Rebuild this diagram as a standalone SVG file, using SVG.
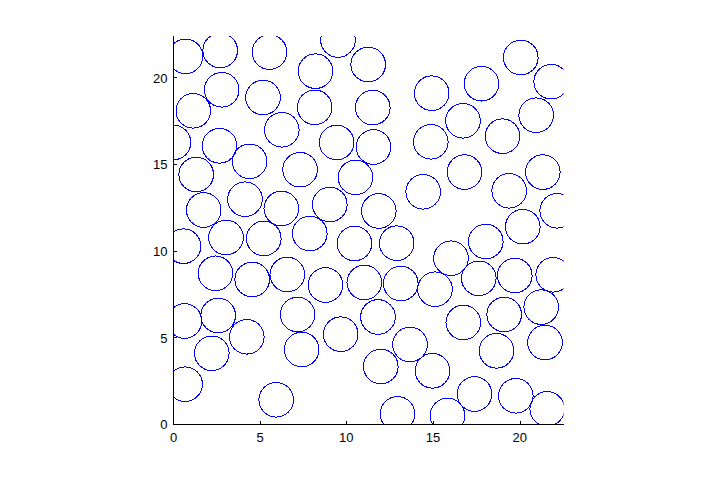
<svg xmlns="http://www.w3.org/2000/svg" width="711" height="478" viewBox="0 0 711 478">
<style>
.c{fill:none;stroke:#0000ff;stroke-width:1}
.ax{stroke:#000;stroke-width:1;fill:none}
.t{font-family:"Liberation Sans",Arial,sans-serif;font-size:13px;fill:#000}
.xl{text-anchor:middle}
.yl{text-anchor:end}
</style>
<defs>
<clipPath id="plotclip"><rect x="173.5" y="36" width="390" height="388.5"/></clipPath>
<circle id="p" r="17.3" class="c"/>
</defs>
<rect x="0" y="0" width="711" height="478" fill="#fff"/>
<g id="circles" clip-path="url(#plotclip)" shape-rendering="crispEdges">
<use href="#p" x="185.5" y="56.3"/>
<use href="#p" x="220.2" y="50.5"/>
<use href="#p" x="269.5" y="52.1"/>
<use href="#p" x="338" y="40"/>
<use href="#p" x="368.2" y="64.5"/>
<use href="#p" x="315.5" y="71.2"/>
<use href="#p" x="520.8" y="57.5"/>
<use href="#p" x="481.5" y="83.7"/>
<use href="#p" x="551.2" y="81.7"/>
<use href="#p" x="431.7" y="93.2"/>
<use href="#p" x="221.7" y="89.8"/>
<use href="#p" x="263" y="97.5"/>
<use href="#p" x="193.3" y="110.8"/>
<use href="#p" x="314.7" y="107.3"/>
<use href="#p" x="372.8" y="107.6"/>
<use href="#p" x="463" y="120.8"/>
<use href="#p" x="536.2" y="115.2"/>
<use href="#p" x="502.5" y="136.2"/>
<use href="#p" x="281.8" y="129.8"/>
<use href="#p" x="173.5" y="142.5"/>
<use href="#p" x="219.5" y="145.8"/>
<use href="#p" x="336.7" y="142.5"/>
<use href="#p" x="373.5" y="147"/>
<use href="#p" x="430.8" y="141.8"/>
<use href="#p" x="249.6" y="161.3"/>
<use href="#p" x="300.1" y="169.7"/>
<use href="#p" x="196.2" y="174.5"/>
<use href="#p" x="355.5" y="177.4"/>
<use href="#p" x="464.5" y="172.1"/>
<use href="#p" x="542.8" y="172.1"/>
<use href="#p" x="423.2" y="191.8"/>
<use href="#p" x="509.2" y="190.8"/>
<use href="#p" x="245" y="199.2"/>
<use href="#p" x="329.8" y="204.5"/>
<use href="#p" x="281.3" y="208.5"/>
<use href="#p" x="203.7" y="210"/>
<use href="#p" x="378.8" y="211"/>
<use href="#p" x="557.2" y="210.8"/>
<use href="#p" x="522.8" y="226.7"/>
<use href="#p" x="309.8" y="233.5"/>
<use href="#p" x="226" y="237.5"/>
<use href="#p" x="263.8" y="238.5"/>
<use href="#p" x="354.5" y="243.5"/>
<use href="#p" x="396.7" y="243.2"/>
<use href="#p" x="485.8" y="241.5"/>
<use href="#p" x="183.5" y="246.2"/>
<use href="#p" x="451" y="258.2"/>
<use href="#p" x="215.5" y="273.3"/>
<use href="#p" x="252.2" y="279.5"/>
<use href="#p" x="287.3" y="274.5"/>
<use href="#p" x="325.5" y="285"/>
<use href="#p" x="364.3" y="282.5"/>
<use href="#p" x="400.8" y="283.5"/>
<use href="#p" x="435" y="289.2"/>
<use href="#p" x="478.8" y="278.3"/>
<use href="#p" x="514.8" y="275.5"/>
<use href="#p" x="553.2" y="274.8"/>
<use href="#p" x="541.2" y="307.1"/>
<use href="#p" x="184.5" y="321"/>
<use href="#p" x="218.2" y="315.5"/>
<use href="#p" x="297.6" y="314.5"/>
<use href="#p" x="378" y="317"/>
<use href="#p" x="463.3" y="322.5"/>
<use href="#p" x="504.2" y="314.5"/>
<use href="#p" x="246.8" y="336.8"/>
<use href="#p" x="340.7" y="334.2"/>
<use href="#p" x="301.7" y="349.5"/>
<use href="#p" x="410" y="344.5"/>
<use href="#p" x="211.8" y="353.3"/>
<use href="#p" x="545" y="342.5"/>
<use href="#p" x="496.5" y="350.8"/>
<use href="#p" x="380.8" y="366.5"/>
<use href="#p" x="432.5" y="370.8"/>
<use href="#p" x="185.1" y="384.2"/>
<use href="#p" x="276.2" y="399.8"/>
<use href="#p" x="474.5" y="394"/>
<use href="#p" x="515.8" y="395.8"/>
<use href="#p" x="397.5" y="413.9"/>
<use href="#p" x="447.5" y="415.5"/>
<use href="#p" x="547.2" y="408.9"/>
</g>
<g id="axes" class="ax" shape-rendering="crispEdges">
<path d="M173.5 36V424.5H563.5"/>
<path d="M260.2 424.5v-3.5M346.8 424.5v-3.5M433.5 424.5v-3.5M520.2 424.5v-3.5"/>
<path d="M173.5 337.8h3.5M173.5 251.2h3.5M173.5 164.5h3.5M173.5 77.8h3.5"/>
</g>
<g id="xlabels" class="t xl">
<text x="173.5" y="441.5">0</text>
<text x="260.2" y="441.5">5</text>
<text x="346.3" y="441.5">10</text>
<text x="433" y="441.5">15</text>
<text x="519.7" y="441.5">20</text>
</g>
<g id="ylabels" class="t yl">
<text x="167.5" y="429.2">0</text>
<text x="167.5" y="342.5">5</text>
<text x="167.5" y="255.9">10</text>
<text x="167.5" y="169.2">15</text>
<text x="167.5" y="82.5">20</text>
</g>
</svg>
